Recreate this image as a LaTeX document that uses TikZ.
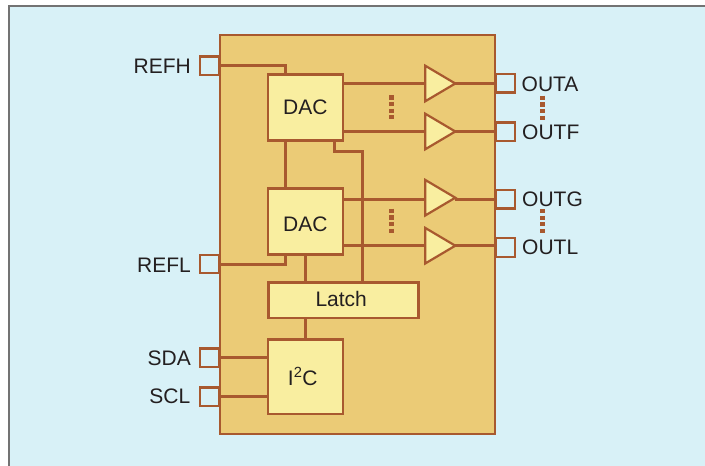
\documentclass[tikz,border=0pt]{standalone}
\usepackage{fontspec}
\setmainfont{Liberation Sans}
\usetikzlibrary{shapes.geometric}
\definecolor{panelblue}{HTML}{D8F1F7}
\definecolor{chipfill}{HTML}{EBCB76}
\definecolor{boxfill}{HTML}{F9EEA0}
\definecolor{wirebrown}{HTML}{A8592F}
\definecolor{labelgray}{HTML}{231F20}
\tikzset{
  chipbox/.style={draw=wirebrown,fill=chipfill,line width=2pt,minimum width=274.5pt,minimum height=399.5pt,inner sep=0pt},
  block/.style={draw=wirebrown,fill=boxfill,line width=2.6pt,inner sep=0pt,text=labelgray,font=\fontsize{21}{24}\selectfont},
  pad/.style={draw=wirebrown,fill=panelblue,line width=2.4pt,minimum width=19pt,minimum height=18.5pt,inner sep=0pt},
  amp/.style={draw=wirebrown,fill=boxfill,line width=2.2pt,isosceles triangle,isosceles triangle stretches,minimum width=35.5pt,minimum height=30pt,inner sep=0pt,outer sep=0pt},
  wire/.style={draw=wirebrown,line width=3pt},
  pinlabel/.style={text=labelgray,inner sep=0pt,font=\fontsize{21}{24}\selectfont},
  vdots/.style={draw=wirebrown,line width=5.5pt,dash pattern=on 4.2pt off 2.4pt}
}
\begin{document}
\begin{tikzpicture}[x=1pt,y=-1pt]
  \useasboundingbox (0,0) rectangle (705,466);
  \fill[panelblue] (9,6) rectangle (705,466);
  \draw[gray!90!black,line width=1.6pt] (9,466) -- (9,6) -- (705,6);
  \node[pad] (refh) at (209.5,65.8) {};
  \node[pad] (refl) at (209.5,264) {};
  \node[pad] (sda) at (209.5,357.8) {};
  \node[pad] (scl) at (209.5,396.8) {};
  \node[pad] (outa) at (505.5,83.3) {};
  \node[pad] (outf) at (505.5,131.8) {};
  \node[pad] (outg) at (505.5,199.2) {};
  \node[pad] (outl) at (505.5,247.5) {};
  \node[chipbox] (chip) at (357.3,234.7) {};
  \node[block,minimum width=75pt,minimum height=66pt] (dac1) at (305.3,107.5) {DAC};
  \node[block,minimum width=75pt,minimum height=66pt] (dac2) at (305.3,221.7) {\raisebox{-2.5pt}[15pt][0pt]{DAC}};
  \node[block,minimum width=150pt,minimum height=35.5pt] (latch) at (343.7,300.3) {\raisebox{1pt}[15pt][0pt]{Latch}\kern5pt};
  \node[block,minimum width=75pt,minimum height=74.5pt] (i2c) at (305.3,376.7) {I\textsuperscript{2}C\kern5pt};
  \node[amp,anchor=west] (ampa) at (425.3,83.5) {};
  \node[amp,anchor=west] (ampf) at (425.3,131.5) {};
  \node[amp,anchor=west] (ampg) at (425.3,197.7) {};
  \node[amp,anchor=west] (ampl) at (425.3,245.7) {};
  \node[pinlabel,anchor=east] (lrefh) at (191,66) {REFH};
  \node[pinlabel,anchor=east] (lrefl) at (191,265) {REFL};
  \node[pinlabel,anchor=east] (lsda) at (191,358) {SDA};
  \node[pinlabel,anchor=east] (lscl) at (190.5,396.5) {SCL};
  \node[pinlabel,anchor=west] (louta) at (521.5,84) {OUTA};
  \node[pinlabel,anchor=west] (loutf) at (522,132) {OUTF};
  \node[pinlabel,anchor=west] (loutg) at (522,199) {OUTG};
  \node[pinlabel,anchor=west] (loutl) at (522,247.5) {OUTL};
  \path[wire]
    (dac1.east|-ampa.west) edge (ampa.west)
    (dac1.east|-ampf.west) edge (ampf.west)
    (dac2.east|-outg.west) edge (ampg.west|-outg.west)
    (dac2.east|-ampl.west) edge (ampl.west)
    (ampa.east) edge (outa.west|-ampa.east)
    (ampf.east) edge (outf.west|-ampf.east)
    (ampg.east|-outg.west) edge (outg.west)
    (ampl.east) edge (outl.west|-ampl.east)
    ([xshift=-20pt]dac1.south) edge ([xshift=-20pt]dac2.north)
    (dac2.south) edge (dac2.south|-latch.north)
    (latch.south-|i2c.north) edge (i2c.north)
    (sda.east) edge (i2c.west|-sda.east)
    (scl.east) edge (i2c.west|-scl.east);
  \draw[wire] (refh.east) -| ([xshift=-20pt]dac1.north);
  \draw[wire] (refl.east) -| ([xshift=-20pt]dac2.south);
  \draw[wire] ([xshift=29.5pt]dac1.south) -- ++(0,10) -| ([xshift=18.6pt]latch.north);
  \draw[vdots] (391.7,95.3) -- (391.7,119.5);
  \draw[vdots] (391.7,208.7) -- (391.7,233);
  \draw[vdots] (542.7,95.7) -- (542.7,120);
  \draw[vdots] (542.7,209) -- (542.7,233.3);
\end{tikzpicture}
\end{document}
